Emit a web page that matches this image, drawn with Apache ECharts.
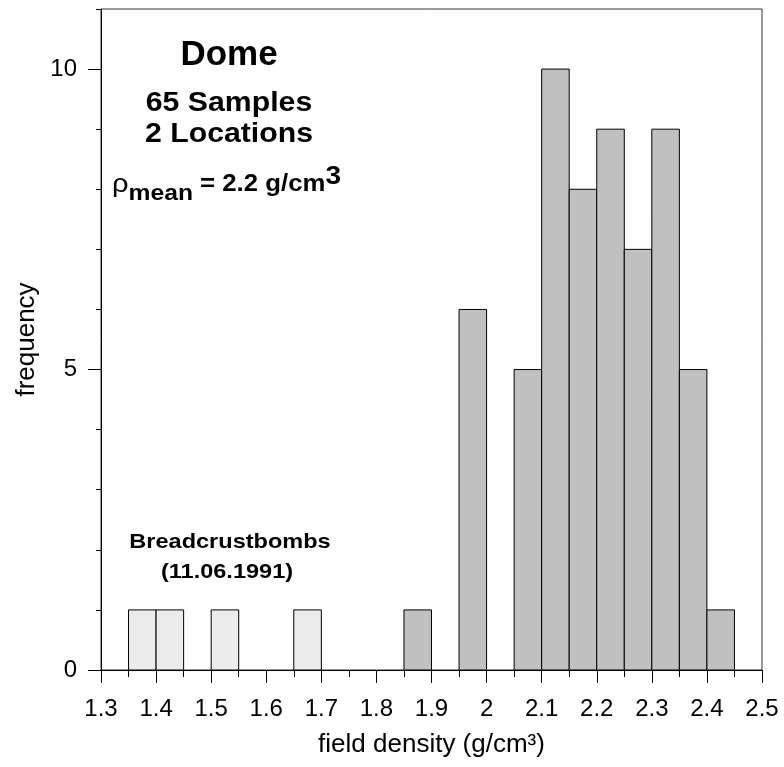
<!DOCTYPE html>
<html>
<head>
<meta charset="utf-8">
<script src="https://cdn.jsdelivr.net/npm/echarts@6/dist/echarts.min.js"></script>
<style>
  html, body { margin: 0; padding: 0; background: #fff; }
  #chart { width: 784px; height: 767px; }
</style>
</head>
<body>
<div id="chart"></div>
<script>
// histogram bins (left edge), width 0.05 g/cm3
var binStart = [1.35, 1.40, 1.50, 1.65, 1.85, 1.95, 2.05, 2.10, 2.15, 2.20, 2.25, 2.30, 2.35, 2.40];
var counts   = [1, 1, 1, 1, 1, 6, 5, 10, 8, 9, 7, 9, 5, 1];
var group    = ['bomb', 'bomb', 'bomb', 'bomb', 'dome', 'dome', 'dome', 'dome', 'dome', 'dome', 'dome', 'dome', 'dome', 'dome'];
var binWidth = 0.05;
var yMajorTicks = [0, 5, 10];

var fontFam = '"Liberation Sans", Arial, sans-serif';
var colors = { bomb: '#ececec', dome: '#c0c0c0' };

var barData = binStart.map(function (s, i) {
  return [s, s + binWidth, counts[i], group[i]];
});

var chart = echarts.init(document.getElementById('chart'));

chart.setOption({
  animation: false,
  backgroundColor: '#fff',
  grid: {
    left: 101, right: 22, top: 9, bottom: 97,
    show: true, borderColor: '#333', borderWidth: 1, backgroundColor: 'transparent'
  },
  xAxis: {
    type: 'value',
    min: 1.3, max: 2.5, interval: 0.1,
    name: 'field density (g/cm³)',
    nameLocation: 'middle',
    nameGap: 62,
    nameTextStyle: { color: '#000', fontSize: 26, fontFamily: fontFam },
    axisLine: { show: true, onZero: false, lineStyle: { color: '#000', width: 1 } },
    axisTick: { show: true, length: 13, lineStyle: { color: '#000' } },
    minorTick: { show: true, splitNumber: 2, length: 7, lineStyle: { color: '#000' } },
    axisLabel: { color: '#000', fontSize: 24, fontFamily: fontFam, margin: 27 },
    splitLine: { show: false },
    minorSplitLine: { show: false }
  },
  yAxis: [{
    type: 'value',
    min: 0, max: 11, interval: 1,
    name: 'frequency',
    nameLocation: 'middle',
    nameGap: 60,
    nameTextStyle: { color: '#000', fontSize: 26, fontFamily: fontFam },
    axisLine: { show: true, onZero: false, lineStyle: { color: '#000', width: 1 } },
    axisTick: { show: true, length: 5, lineStyle: { color: '#000' } },
    axisLabel: {
      color: '#000', fontSize: 24, fontFamily: fontFam, margin: 24,
      formatter: function (v) { return yMajorTicks.indexOf(v) >= 0 ? String(v) : ''; }
    },
    splitLine: { show: false }
  }, {
    type: 'value',
    min: 0, max: 11, interval: 5,
    position: 'left',
    offset: 0,
    axisLine: { show: false },
    axisTick: { show: true, length: 13, customValues: yMajorTicks, lineStyle: { color: '#000' } },
    axisLabel: { show: false },
    splitLine: { show: false }
  }],
  series: [{
    type: 'custom',
    yAxisIndex: 0,
    data: barData,
    encode: { x: [0, 1], y: 2 },
    renderItem: function (params, api) {
      var p0 = api.coord([api.value(0), api.value(2)]);
      var p1 = api.coord([api.value(1), 0]);
      var g = barData[params.dataIndex][3];
      return {
        type: 'rect',
        shape: { x: p0[0], y: p0[1], width: p1[0] - p0[0], height: p1[1] - p0[1] },
        style: { fill: colors[g], stroke: '#000', lineWidth: 1 }
      };
    }
  }],
  graphic: [
    {
      type: 'text', x: 229, y: 55,
      style: { text: 'Dome', font: 'bold 35px ' + fontFam, fill: '#000', textAlign: 'center', textVerticalAlign: 'middle' }
    },
    {
      type: 'text', x: 229, y: 103, scaleX: 1.08,
      style: { text: '65 Samples', font: 'bold 28px ' + fontFam, fill: '#000', textAlign: 'center', textVerticalAlign: 'middle' }
    },
    {
      type: 'text', x: 229, y: 134, scaleX: 1.08,
      style: { text: '2 Locations', font: 'bold 28px ' + fontFam, fill: '#000', textAlign: 'center', textVerticalAlign: 'middle' }
    },
    {
      // rho_mean line, with subscript and superscript
      type: 'text', x: 112, y: 165, scaleX: 1.12,
      style: {
        text: '{r|ρ}{s|mean}{m| = 2.2 g/cm}{p|3}',
        fill: '#000',
        rich: {
          r: { fontSize: 26, fontFamily: fontFam, lineHeight: 40, verticalAlign: 'middle', fill: '#000' },
          s: { fontSize: 22, fontWeight: 'bold', fontFamily: fontFam, lineHeight: 22, verticalAlign: 'bottom', fill: '#000' },
          m: { fontSize: 23, fontWeight: 'bold', fontFamily: fontFam, lineHeight: 40, verticalAlign: 'middle', fill: '#000' },
          p: { fontSize: 25, fontWeight: 'bold', fontFamily: fontFam, lineHeight: 22, verticalAlign: 'top', fill: '#000' }
        }
      }
    },
    {
      type: 'text', x: 230, y: 542, scaleX: 1.12,
      style: { text: 'Breadcrustbombs', font: 'bold 21px ' + fontFam, fill: '#000', textAlign: 'center', textVerticalAlign: 'middle' }
    },
    {
      type: 'text', x: 227, y: 572, scaleX: 1.12,
      style: { text: '(11.06.1991)', font: 'bold 21px ' + fontFam, fill: '#000', textAlign: 'center', textVerticalAlign: 'middle' }
    }
  ]
});
</script>
</body>
</html>
